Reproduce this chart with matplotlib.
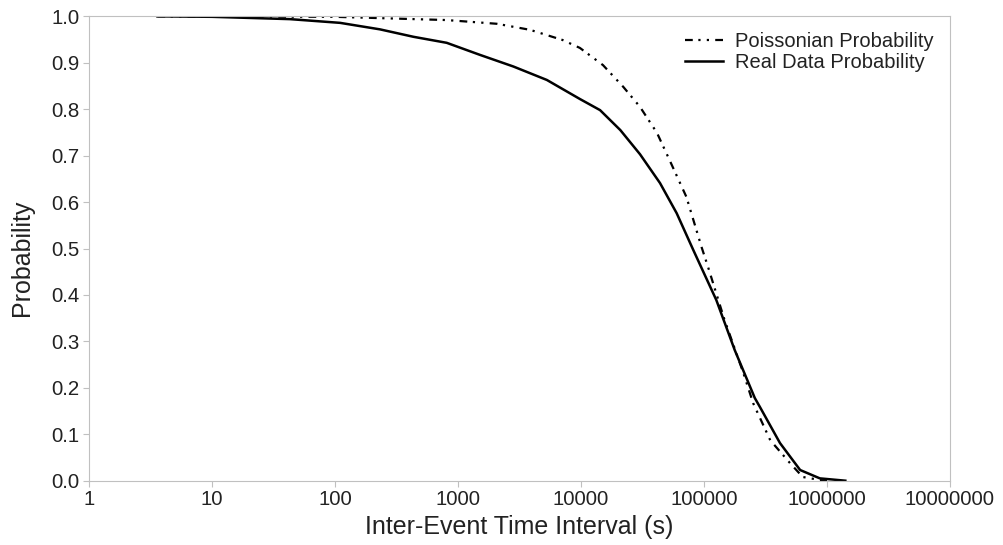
import matplotlib.pyplot as plt

plt.rcParams['font.family'] = ['Liberation Sans', 'DejaVu Sans']

# values
real_t = [3.6, 10, 43, 110, 232, 434, 810, 1510, 2820, 5280, 9800, 14300, 20900,
          30200, 43900, 60000, 81800, 126000, 178000, 259000, 286000, 415000,
          605000, 875000, 1410000]
real_p = [1.0, 0.999, 0.994, 0.986, 0.972, 0.956, 0.943, 0.917, 0.892, 0.863, 0.822,
          0.798, 0.755, 0.703, 0.641, 0.576, 0.497, 0.389, 0.281, 0.178, 0.158, 0.081,
          0.023, 0.005, 0.0]

pois_t = [3.6, 100, 810, 2070, 3850, 7100, 9800, 15100, 22100, 30200, 41500, 52600,
          72000, 95600, 108000, 147000, 209000, 251000, 346000, 500000, 635000,
          900000, 1000000]
pois_p = [1.0, 0.999, 0.992, 0.984, 0.971, 0.949, 0.932, 0.895, 0.848, 0.805, 0.749,
          0.69, 0.611, 0.503, 0.46, 0.346, 0.232, 0.167, 0.087, 0.038, 0.008,
          0.001, 0.0]

xticks = [1, 10, 100, 1000, 10000, 100000, 1000000, 10000000]
yticks = [0.0, 0.1, 0.2, 0.3, 0.4, 0.5, 0.6, 0.7, 0.8, 0.9, 1.0]

fig = plt.figure(figsize=(10.04, 5.45), dpi=100)
ax = fig.add_axes([0.0886, 0.118, 0.8576, 0.852])

ax.plot(pois_t, pois_p, color='black', lw=1.6,
        linestyle=(0, (3.5, 2.5, 1, 2.8, 1, 2.8)), label='Poissonian Probability')
ax.plot(real_t, real_p, color='black', lw=1.8, label='Real Data Probability')

ax.set_xscale('log')
ax.set_xlim(1, 1e7)
ax.set_ylim(0, 1)
ax.set_xticks(xticks)
ax.set_xticklabels([str(t) for t in xticks])
ax.minorticks_off()
ax.set_yticks(yticks)
ax.set_yticklabels(['%.1f' % v for v in yticks])

for s in ax.spines.values():
    s.set_color('#c0c0c0')
ax.tick_params(colors='#c0c0c0', labelcolor='#222222', labelsize=14.7, length=4.3, pad=2.5)

ax.set_xlabel('Inter-Event Time Interval (s)', fontsize=18, color='#222222', labelpad=4)
ax.set_ylabel('Probability', fontsize=18, color='#222222')
ax.yaxis.set_label_coords(-0.064, 0.48)

leg = ax.legend(loc='upper right', frameon=False, fontsize=14.5, handlelength=1.9,
                handletextpad=0.6, labelspacing=0.1, borderaxespad=0.4)
for t in leg.get_texts():
    t.set_color('#222222')

fig.savefig('out.png')
